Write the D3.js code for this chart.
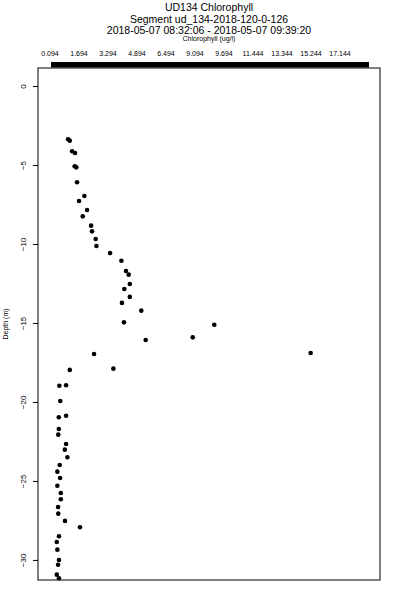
<!DOCTYPE html>
<html>
<head>
<meta charset="utf-8">
<script src="https://cdn.jsdelivr.net/npm/d3@7"></script>
<style>
  body { margin: 0; background: #fff; }
  svg { display: block; font-family: "Liberation Sans", Arial, sans-serif; }
</style>
</head>
<body>
<div id="chart"></div>
<script>
// chlorophyll (ug/l) and depth (m)
var chl = [
  1.03, 1.12, 1.25, 1.41, 1.39, 1.48, 1.52, 1.92, 1.63, 2.07,
  1.83, 2.29, 2.34, 2.54, 2.58, 3.33, 3.95, 4.20, 4.35, 4.41,
  4.11, 4.41, 3.98, 5.04, 4.09, 9.04, 7.86, 5.28, 14.32, 2.45,
  3.51, 1.12, 0.55, 0.92, 0.60, 0.92, 0.52, 0.52, 0.49, 0.92,
  0.85, 0.99, 0.57, 0.44, 0.59, 0.44, 0.63, 0.63, 0.48, 0.49,
  0.86, 1.68, 0.53, 0.41, 0.44, 0.53, 0.48, 0.41, 0.53
];
var depth = [
  -3.37, -3.46, -4.13, -4.24, -5.08, -5.15, -6.09, -6.96, -7.28, -7.85,
  -8.25, -8.84, -9.20, -9.68, -10.13, -10.57, -11.06, -11.71, -11.94, -12.53,
  -12.85, -13.35, -13.73, -14.22, -14.96, -15.11, -15.91, -16.08, -16.90, -16.96,
  -17.89, -17.97, -18.97, -18.94, -19.94, -20.87, -20.97, -21.71, -22.07, -22.66,
  -23.02, -23.50, -23.99, -24.41, -24.81, -25.30, -25.76, -26.16, -26.65, -27.07,
  -27.53, -27.93, -28.50, -28.86, -29.35, -30.00, -30.30, -30.93, -31.16
];
var xTickLabels = ["0.094", "1.694", "3.294", "4.894", "6.494", "9.094", "9.694",
                   "11.444", "13.344", "15.244", "17.144"];
var yTicks = [0, -5, -10, -15, -20, -25, -30];
var titleLines = ["UD134 Chlorophyll", "Segment ud_134-2018-120-0-126",
                  "2018-05-07 08:32:06 - 2018-05-07 09:39:20"];

var W = 400, H = 600;
var pLeft = 38, pRight = 380, pTop = 68, pBottom = 580;

var svg = d3.select("#chart").append("svg").attr("width", W).attr("height", H);

var x = d3.scaleLinear().domain([-0.62, 18.12]).range([pLeft, pRight]);
var y = d3.scaleLinear().domain([1.14, -31.27]).range([pTop, pBottom]);
var xLab = d3.scalePoint().domain(xTickLabels).range([50, 340]);

// frame
svg.append("rect")
  .attr("x", pLeft).attr("y", pTop)
  .attr("width", pRight - pLeft).attr("height", pBottom - pTop)
  .attr("fill", "none").attr("stroke", "#000").attr("stroke-width", 1);

// titles
svg.selectAll("text.title").data(titleLines).enter().append("text")
  .attr("class", "title")
  .attr("x", (pLeft + pRight) / 2)
  .attr("y", function (d, i) { return 11 + i * 11.5; })
  .attr("text-anchor", "middle")
  .attr("font-size", 10.5)
  .text(function (d) { return d; });

svg.append("text")
  .attr("x", (pLeft + pRight) / 2).attr("y", 41)
  .attr("text-anchor", "middle").attr("font-size", 7)
  .text("Chlorophyll (ug/l)");

// top axis: thick bar + labels
svg.append("rect")
  .attr("x", x(0.094)).attr("y", 62)
  .attr("width", 369 - x(0.094)).attr("height", 5.5)
  .attr("fill", "#000");

svg.selectAll("text.xt").data(xTickLabels).enter().append("text")
  .attr("class", "xt")
  .attr("x", function (d) { return xLab(d); })
  .attr("y", 56)
  .attr("text-anchor", "middle").attr("font-size", 7)
  .text(function (d) { return d; });

// left axis
var yAxis = d3.axisLeft(y).tickValues(yTicks).tickSize(5).tickFormat(d3.format("d"));
var gy = svg.append("g").attr("transform", "translate(" + pLeft + ",0)").call(yAxis);
gy.select(".domain").remove();
gy.selectAll(".tick line").attr("stroke", "#000");
gy.selectAll(".tick text")
  .attr("font-size", 8)
  .attr("font-family", "Liberation Sans, Arial, sans-serif")
  .attr("fill", "#000")
  .attr("x", 0).attr("y", 0).attr("dy", "0.35em")
  .attr("text-anchor", "middle")
  .attr("transform", "translate(-15,0) rotate(-90)");

svg.append("text")
  .attr("transform", "translate(8," + ((pTop + pBottom) / 2) + ") rotate(-90)")
  .attr("text-anchor", "middle").attr("font-size", 7)
  .text("Depth (m)");

// points
svg.selectAll("circle.pt").data(chl).enter().append("circle")
  .attr("class", "pt")
  .attr("cx", function (d) { return x(d); })
  .attr("cy", function (d, i) { return y(depth[i]); })
  .attr("r", 2.3)
  .attr("fill", "#000");
</script>
</body>
</html>
